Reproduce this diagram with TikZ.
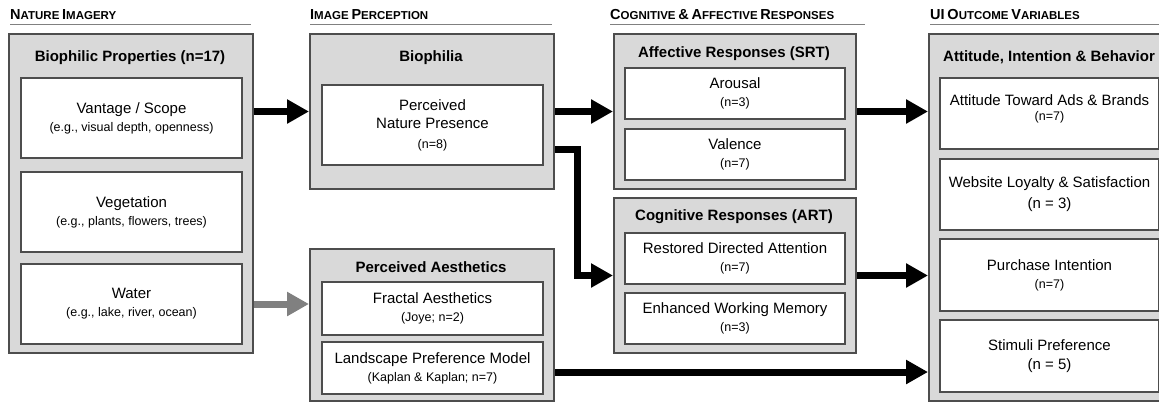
\documentclass[tikz,border=0pt]{standalone}
\usepackage{fontspec}
\setmainfont{Liberation Sans}
\usetikzlibrary{arrows.meta}

\definecolor{panelfill}{HTML}{D9D9D9}
\definecolor{edgegray}{HTML}{4D4D4D}
\definecolor{rulegray}{HTML}{808080}
\definecolor{flowgray}{HTML}{808080}
% fake small caps for the column heads
\newcommand{\capsc}[2]{{\fontsize{14.5}{16}\selectfont #1}{\fontsize{11.5}{16}\selectfont #2}}
\newcommand{\subtxt}{\fontsize{12.5}{16}\selectfont}

\begin{document}
\begin{tikzpicture}[x=1pt,y=-1pt]
\tikzset{
% grey frames and white cards inside them
panel/.style={draw=edgegray,fill=panelfill,line width=2pt,anchor=north west,inner sep=0pt},
card/.style={draw=edgegray,fill=white,line width=2pt,anchor=north west,inner sep=2pt,align=center,font=\fontsize{15}{18}\selectfont},
paneltitle/.style={font=\bfseries\fontsize{15}{18}\selectfont,inner sep=0pt},
colhead/.style={anchor=base west,inner sep=0pt,font=\bfseries},
headrule/.style={draw=rulegray,line width=1pt},
flow/.style={line width=7pt,-{Triangle[length=22pt,width=23pt]}},
flow gray/.style={flow,draw=flowgray}
}
\useasboundingbox (0,0) rectangle (1159,402);

% column heads
\node[colhead] (head1) at (10,19) {\capsc{N}{ATURE} \capsc{I}{MAGERY}};
\node[colhead] (head2) at (310,19) {\capsc{I}{MAGE} \capsc{P}{ERCEPTION}};
\node[colhead] (head3) at (610,19) {\capsc{C}{OGNITIVE} \capsc{\&}{} \capsc{A}{FFECTIVE} \capsc{R}{ESPONSES}};
\node[colhead] (head4) at (930,19) {\capsc{UI}{} \capsc{O}{UTCOME} \capsc{V}{ARIABLES}};
\draw[headrule] (10,24) -- (251,24);
\draw[headrule] (310,24) -- (552,24);
\draw[headrule] (610,24) -- (865,24);
\draw[headrule] (930,24) -- (1159,24);

% nature imagery
\node[panel,minimum width=244,minimum height=319] (props) at (8,33) {};
\node[paneltitle] (propstitle) at (130,58) {Biophilic Properties (n=17)};
\node[card,minimum width=221,minimum height=80] (vantage) at (20,77) {Vantage / Scope\\{\subtxt (e.g., visual depth, openness)}};
\node[card,minimum width=221,minimum height=80] (veg) at (20,171) {Vegetation\\{\subtxt (e.g., plants, flowers, trees)}};
\node[card,minimum width=221,minimum height=80] (water) at (20,263) {Water\\{\subtxt (e.g., lake, river, ocean)}};

% image perception
\node[panel,minimum width=244,minimum height=155] (bio) at (309,33) {};
\node[paneltitle] (biotitle) at (431,58) {Biophilia};
\node[card,minimum width=221,minimum height=80] (nature) at (321,84) {Perceived\\Nature Presence\\[2pt]{\subtxt (n=8)}};
\node[panel,minimum width=244,minimum height=152] (aes) at (309,248) {};
\node[paneltitle] (aestitle) at (431,267) {Perceived Aesthetics};
\node[card,minimum width=221,minimum height=53] (fractal) at (321,281) {Fractal Aesthetics\\{\subtxt (Joye; n=2)}};
\node[card,minimum width=221,minimum height=52] (landscape) at (321,341) {Landscape Preference Model\\{\subtxt (Kaplan \& Kaplan; n=7)}};

% cognitive & affective responses
\node[panel,minimum width=242,minimum height=155] (aff) at (613,33) {};
\node[paneltitle] (afftitle) at (734,54) {Affective Responses (SRT)};
\node[card,minimum width=220,minimum height=51] (arousal) at (624,67) {Arousal\\{\subtxt (n=3)}};
\node[card,minimum width=220,minimum height=51] (valence) at (624,128) {Valence\\{\subtxt (n=7)}};
\node[panel,minimum width=242,minimum height=155] (cog) at (613,197) {};
\node[paneltitle] (cogtitle) at (734,217) {Cognitive Responses (ART)};
\node[card,minimum width=220,minimum height=51] (attention) at (624,232) {Restored Directed Attention\\{\subtxt (n=7)}};
\node[card,minimum width=220,minimum height=51] (memory) at (624,292) {Enhanced Working Memory\\{\subtxt (n=3)}};

% UI outcome variables
\node[panel,minimum width=250,minimum height=367] (ui) at (928,33) {};
\node[paneltitle] (uititle) at (1049,57) {Attitude, Intention \& Behavior};
\node[card,minimum width=219,minimum height=71] (ads) at (939,77) {Attitude Toward Ads \& Brands\\[-3pt]{\subtxt (n=7)}\\[-6pt]\mbox{}};
\node[card,minimum width=219,minimum height=71] (loyalty) at (939,158) {Website Loyalty \& Satisfaction\\[3pt](n = 3)};
\node[card,minimum width=219,minimum height=72] (purchase) at (939,238) {Purchase Intention\\{\subtxt (n=7)}};
\node[card,minimum width=219,minimum height=72] (stimuli) at (939,319) {Stimuli Preference\\[1pt](n = 5)};

% flows
\draw[flow] (bio.west -| props.east) -- (bio.west);
\draw[flow gray] (water.east -| props.east) -- (water.east -| aes.west);
\draw[flow] (bio.east) -- (aff.west);
\coordinate (bend) at (577,149);
\draw[flow] (bend -| bio.east) -- (bend) |- (cog.west);
\draw[flow] (aff.east) -- (aff.east -| ui.west);
\draw[flow] (cog.east) -- (cog.east -| ui.west);
\coordinate (lowrow) at (553,372);
\draw[flow] (lowrow -| aes.east) -- (lowrow -| ui.west);
\end{tikzpicture}
\end{document}
